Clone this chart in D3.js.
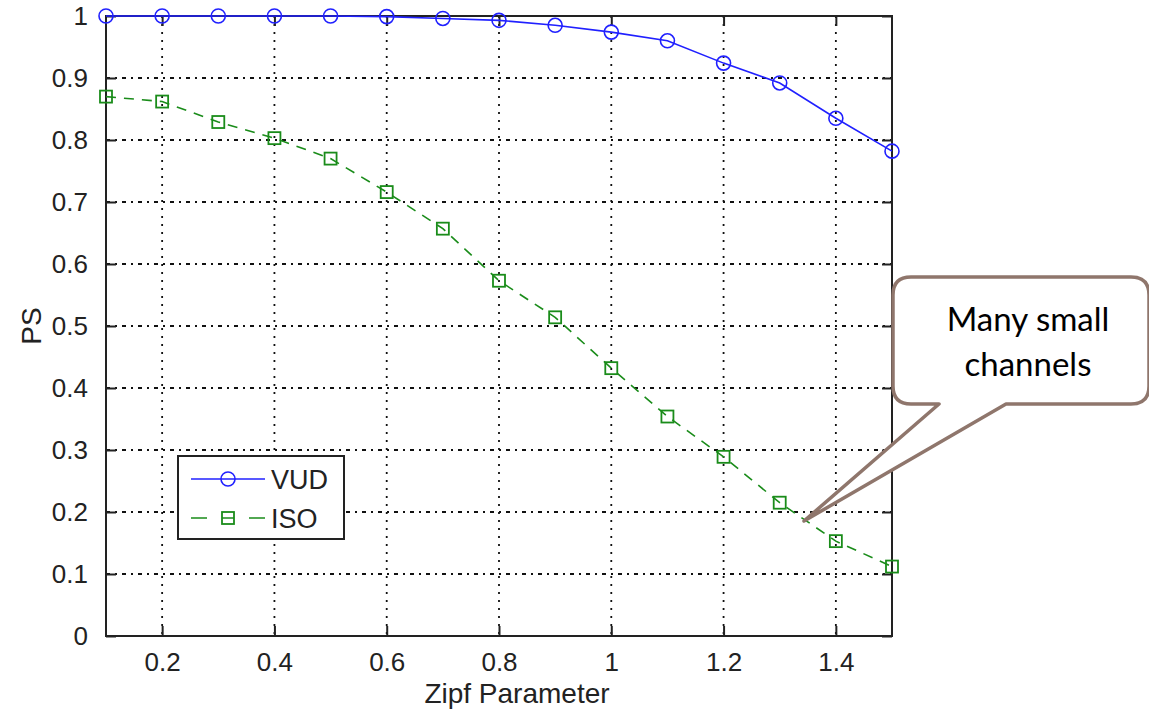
<!DOCTYPE html>
<meta charset='utf-8'>
<style>
    body { margin: 0; background: #fff; }
    .axis text { font-family: 'Liberation Sans', Arial, sans-serif; font-size: 26px; fill: #222; }
    .axis path, .axis line { stroke: #222; stroke-width: 2; }
</style>
<body>
<script src='https://cdn.jsdelivr.net/npm/d3@7'></script>
<script>
    // Data
    const zipf = [0.1, 0.2, 0.3, 0.4, 0.5, 0.6, 0.7, 0.8, 0.9, 1.0, 1.1, 1.2, 1.3, 1.4, 1.5];
    const vud = [1.0, 1.0, 1.0, 1.0, 1.0, 0.999, 0.996, 0.993, 0.985, 0.974, 0.960, 0.924, 0.892, 0.835, 0.782];
    const iso = [0.870, 0.862, 0.829, 0.803, 0.770, 0.716, 0.657, 0.573, 0.514, 0.432, 0.354, 0.289, 0.215, 0.153, 0.112];
    const xTicks = [0.2, 0.4, 0.6, 0.8, 1.0, 1.2, 1.4];
    const yTicks = [0, 0.1, 0.2, 0.3, 0.4, 0.5, 0.6, 0.7, 0.8, 0.9, 1];
    const seriesNames = ['VUD', 'ISO'];
    const calloutLines = ['Many small', 'channels'];

    const margin = { top: 16, right: 257, bottom: 74, left: 106 },
        width = 1149 - margin.left - margin.right,
        height = 710 - margin.top - margin.bottom;

    const svgRoot = d3.select('body').append('svg')
        .attr('width', 1149).attr('height', 710);
    const svg = svgRoot.append('g')
        .attr('transform', `translate(${margin.left},${margin.top})`);

    const x = d3.scaleLinear().domain([0.1, 1.5]).range([0, width]);
    const y = d3.scaleLinear().domain([0, 1]).range([height, 0]);

    // Grid
    svg.append('g').selectAll('line')
        .data(xTicks).enter().append('line')
        .attr('x1', d => x(d)).attr('x2', d => x(d))
        .attr('y1', 0).attr('y2', height)
        .attr('stroke', '#111').attr('stroke-width', 1.8)
        .attr('stroke-dasharray', '2,6');
    svg.append('g').selectAll('line')
        .data(yTicks.slice(1, -1)).enter().append('line')
        .attr('x1', 0).attr('x2', width)
        .attr('y1', d => y(d)).attr('y2', d => y(d))
        .attr('stroke', '#111').attr('stroke-width', 1.8)
        .attr('stroke-dasharray', '4,5,2,5');

    // Axes (inner ticks on all sides)
    const fmt = d => d === 0 || d === 1 ? String(d) : d3.format('.1f')(d);
    svg.append('g').attr('class', 'axis')
        .attr('transform', `translate(0,${height})`)
        .call(d3.axisBottom(x).tickValues(xTicks).tickSize(-10).tickPadding(17).tickFormat(fmt));
    svg.append('g').attr('class', 'axis')
        .call(d3.axisLeft(y).tickValues(yTicks).tickSize(-10).tickPadding(18).tickFormat(fmt));
    svg.append('g').attr('class', 'axis')
        .call(d3.axisTop(x).tickValues(xTicks).tickSize(-10).tickFormat(''));
    svg.append('g').attr('class', 'axis')
        .attr('transform', `translate(${width},0)`)
        .call(d3.axisRight(y).tickValues(yTicks).tickSize(-10).tickFormat(''));
    svg.selectAll('.axis .domain').remove();
    svg.append('rect')
        .attr('width', width).attr('height', height)
        .attr('fill', 'none').attr('stroke', '#222').attr('stroke-width', 2);

    // Axis labels
    svg.append('text')
        .attr('x', width / 2 + 18).attr('y', height + 67)
        .attr('text-anchor', 'middle')
        .style('font-family', "'Liberation Sans', Arial, sans-serif")
        .style('font-size', '28px').style('fill', '#222')
        .text('Zipf Parameter');
    svg.append('text')
        .attr('transform', `translate(-65,${height / 2}) rotate(-90)`)
        .attr('text-anchor', 'middle')
        .style('font-family', "'Liberation Sans', Arial, sans-serif")
        .style('font-size', '28px').style('fill', '#222')
        .text('PS');

    // Lines
    const line = d3.line().x(d => x(d[0])).y(d => y(d[1]));
    const vudData = zipf.map((z, i) => [z, vud[i]]);
    const isoData = zipf.map((z, i) => [z, iso[i]]);
    const blue = '#2020ff', green = '#1a8c1a';

    svg.append('path').datum(isoData)
        .attr('d', line).attr('fill', 'none')
        .attr('stroke', green).attr('stroke-width', 1.6)
        .attr('stroke-dasharray', '10,8');
    svg.selectAll('.sq').data(isoData).enter().append('rect')
        .attr('class', 'sq')
        .attr('x', d => x(d[0]) - 6).attr('y', d => y(d[1]) - 6)
        .attr('width', 12).attr('height', 12)
        .attr('fill', 'none').attr('stroke', green).attr('stroke-width', 1.8);

    svg.append('path').datum(vudData)
        .attr('d', line).attr('fill', 'none')
        .attr('stroke', blue).attr('stroke-width', 1.6);
    svg.selectAll('.circ').data(vudData).enter().append('circle')
        .attr('class', 'circ')
        .attr('cx', d => x(d[0])).attr('cy', d => y(d[1]))
        .attr('r', 7)
        .attr('fill', 'none').attr('stroke', blue).attr('stroke-width', 1.6);

    // Legend
    const legend = svg.append('g').attr('transform', 'translate(72,440)');
    legend.append('rect')
        .attr('width', 166).attr('height', 83)
        .attr('fill', '#fff').attr('stroke', '#222').attr('stroke-width', 2);
    const items = legend.selectAll('.item').data(seriesNames).enter().append('g')
        .attr('class', 'item')
        .attr('transform', (d, i) => `translate(0,${23 + i * 39})`);
    items.append('line')
        .attr('x1', 13).attr('x2', 87)
        .attr('stroke', (d, i) => i ? green : blue).attr('stroke-width', 1.6)
        .attr('stroke-dasharray', (d, i) => i ? '16,15,12,15,16' : null);
    items.filter((d, i) => i === 0).append('circle')
        .attr('cx', 50).attr('r', 7)
        .attr('fill', 'none').attr('stroke', blue).attr('stroke-width', 1.6);
    items.filter((d, i) => i === 1).append('rect')
        .attr('x', 44).attr('y', -6).attr('width', 12).attr('height', 12)
        .attr('fill', 'none').attr('stroke', green).attr('stroke-width', 1.8);
    items.append('text')
        .attr('x', 93).attr('dy', '0.36em')
        .style('font-family', "'Liberation Sans', Arial, sans-serif")
        .style('font-size', '27px').style('fill', '#222')
        .text(d => d);

    // Callout
    const callout = svgRoot.append('g');
    const bx = 893, by = 277, bw = 256, bh = 127, r = 18;
    const tipX = 804, tipY = 521, p1 = 939, p2 = 1006;
    const pathStr = `M${bx + r},${by} H${bx + bw - r} Q${bx + bw},${by} ${bx + bw},${by + r}
        V${by + bh - r} Q${bx + bw},${by + bh} ${bx + bw - r},${by + bh}
        H${p2} L${tipX},${tipY} L${p1},${by + bh}
        H${bx + r} Q${bx},${by + bh} ${bx},${by + bh - r}
        V${by + r} Q${bx},${by} ${bx + r},${by} Z`;
    callout.append('path')
        .attr('d', pathStr)
        .attr('fill', '#fff').attr('stroke', '#8f766c').attr('stroke-width', 3.5)
        .attr('stroke-linejoin', 'round');
    callout.selectAll('text').data(calloutLines).enter().append('text')
        .attr('x', 1028).attr('y', (d, i) => 331 + i * 45)
        .attr('text-anchor', 'middle')
        .style('font-family', 'Lato, sans-serif')
        .style('font-size', '33px').style('fill', '#000')
        .text(d => d);
</script>
</body>
